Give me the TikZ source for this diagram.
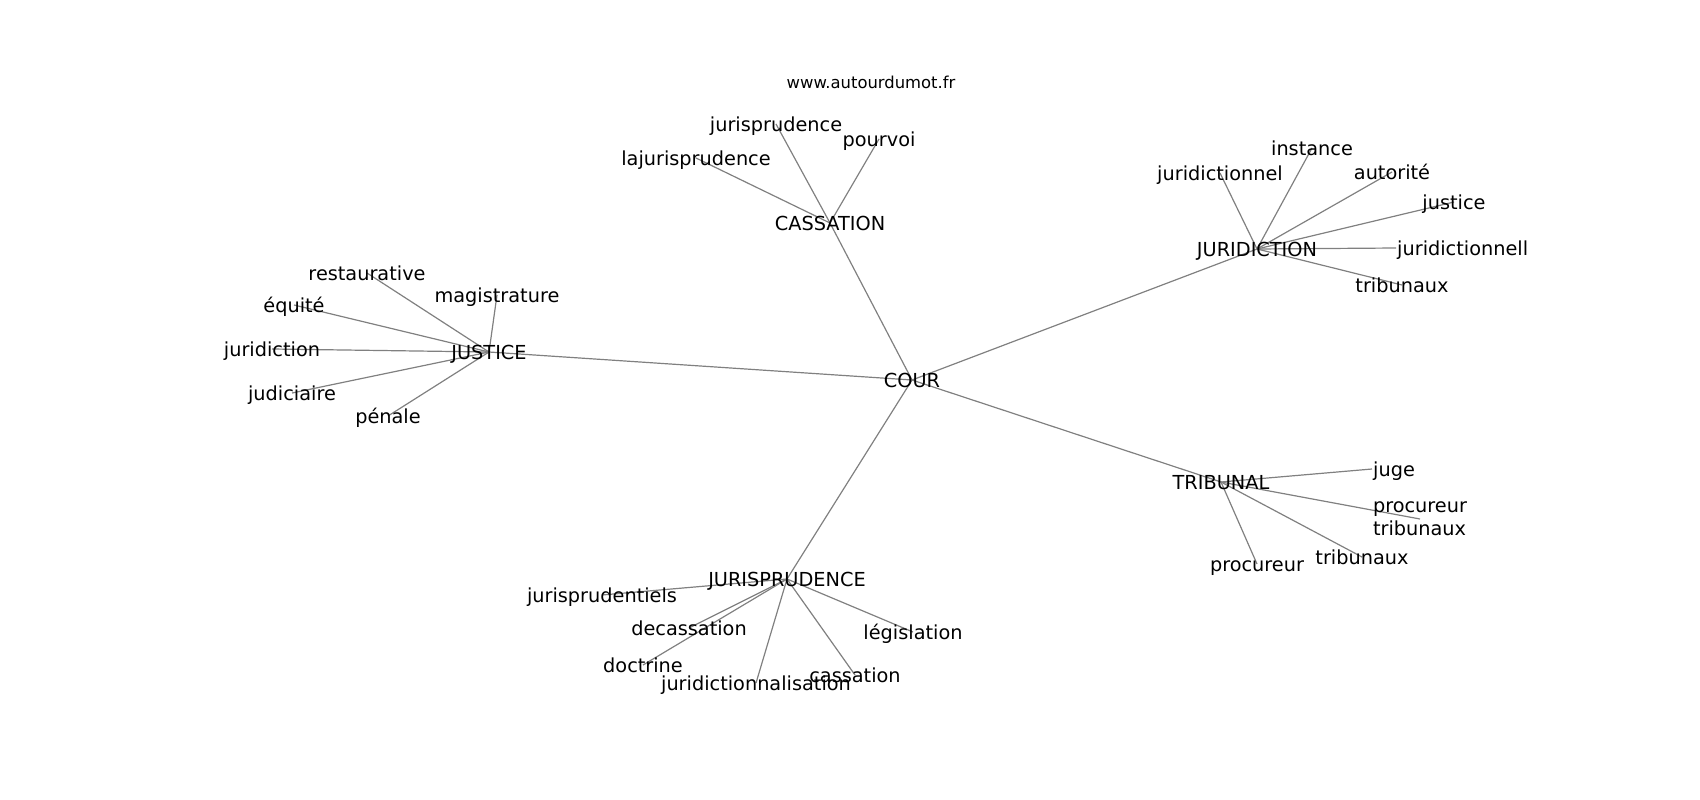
\documentclass[tikz,border=0pt]{standalone}
\usepackage{fontspec}
\setmainfont{DejaVu Sans}
\usetikzlibrary{backgrounds}

\begin{document}
\begin{tikzpicture}[x=1pt,y=-1pt]
        % Définition des styles
        \tikzset{
            word/.style={inner sep=1pt, text height=17pt, text depth=3pt,
                         font=\fontsize{19.3}{23}\selectfont},
            link/.style={draw=gray, line width=1.2pt}
        }
        \useasboundingbox (0,0) rectangle (1700,800);

        % Source
        \node[font=\fontsize{16.4}{19}\selectfont] (site) at (871,82) {www.autourdumot.fr};

        % Mots principaux
        \node[word] (cour) at (912,380) {COUR};
        \node[word] (cassation) at (830,223) {CASSATION};
        \node[word] (justice) at (489,352) {JUSTICE};
        \node[word] (juridiction) at (1257,249) {JURIDICTION};
        \node[word] (tribunal) at (1221,482) {TRIBUNAL};
        \node[word] (jurisprudence) at (787,579) {JURISPRUDENCE};

        % Autour de CASSATION
        \node[word] (cas-lajuris) at (696,158) {lajurisprudence};
        \node[word] (cas-juris) at (776,124) {jurisprudence};
        \node[word] (cas-pourvoi) at (879,139) {pourvoi};

        % Autour de JUSTICE
        \node[word] (jus-restau) at (367,273) {restaurative};
        \node[word] (jus-magis) at (497,295) {magistrature};
        \node[word] (jus-equite) at (294,305) {équité};
        \node[word] (jus-juridiction) at (272,349) {juridiction};
        \node[word] (jus-judiciaire) at (292,393) {judiciaire};
        \node[word] (jus-penale) at (388,416) {pénale};

        % Autour de JURIDICTION
        \node[word] (jur-juridictionnel) at (1220,173) {juridictionnel};
        \node[word] (jur-instance) at (1312,148) {instance};
        \node[word] (jur-autorite) at (1392,172) {autorité};
        \node[word] (jur-justice) at (1454,202) {justice};
        \node[word, anchor=west] (jur-juridictionnell) at (1396,248) {juridictionnell};
        \node[word] (jur-tribunaux) at (1402,285) {tribunaux};

        % Autour de TRIBUNAL
        \node[word, anchor=west] (tri-juge) at (1372,469) {juge};
        \node[inner sep=1pt, align=left, font=\fontsize{19.3}{23}\selectfont] (tri-proctrib) at (1420,519) {procureur\\tribunaux};
        \node[word] (tri-tribunaux) at (1362,557) {tribunaux};
        \node[word] (tri-procureur) at (1257,564) {procureur};

        % Autour de JURISPRUDENCE
        \node[word] (jpr-jurisprudentiels) at (602,595) {jurisprudentiels};
        \node[word] (jpr-decassation) at (689,628) {decassation};
        \node[word] (jpr-doctrine) at (643,665) {doctrine};
        \node[word] (jpr-juridictionnalisation) at (756,683) {juridictionnalisation};
        \node[word] (jpr-cassation) at (855,675) {cassation};
        \node[word] (jpr-legislation) at (913,632) {législation};

        % Connexions
        \begin{scope}[on background layer]
        \draw[link] (cour.center) -- (cassation.center);
        \draw[link] (cour.center) -- (justice.center);
        \draw[link] (cour.center) -- (juridiction.center);
        \draw[link] (cour.center) -- (tribunal.center);
        \draw[link] (cour.center) -- (jurisprudence.center);

        \draw[link] (cassation.center) -- (cas-lajuris.center);
        \draw[link] (cassation.center) -- (cas-juris.center);
        \draw[link] (cassation.center) -- (cas-pourvoi.center);

        \draw[link] (justice.center) -- (jus-restau.center);
        \draw[link] (justice.center) -- (jus-magis.center);
        \draw[link] (justice.center) -- (jus-equite.center);
        \draw[link] (justice.center) -- (jus-juridiction.center);
        \draw[link] (justice.center) -- (jus-judiciaire.center);
        \draw[link] (justice.center) -- (jus-penale.center);

        \draw[link] (juridiction.center) -- (jur-juridictionnel.center);
        \draw[link] (juridiction.center) -- (jur-instance.center);
        \draw[link] (juridiction.center) -- (jur-autorite.center);
        \draw[link] (juridiction.center) -- (jur-justice.center);
        \draw[link] (juridiction.center) -- (jur-juridictionnell.west);
        \draw[link] (juridiction.center) -- (jur-tribunaux.center);

        \draw[link] (tribunal.center) -- (tri-juge.west);
        \draw[link] (tribunal.center) -- (tri-proctrib.center);
        \draw[link] (tribunal.center) -- (tri-tribunaux.center);
        \draw[link] (tribunal.center) -- (tri-procureur.center);

        \draw[link] (jurisprudence.center) -- (jpr-jurisprudentiels.center);
        \draw[link] (jurisprudence.center) -- (jpr-decassation.center);
        \draw[link] (jurisprudence.center) -- (jpr-doctrine.center);
        \draw[link] (jurisprudence.center) -- (jpr-juridictionnalisation.center);
        \draw[link] (jurisprudence.center) -- (jpr-cassation.center);
        \draw[link] (jurisprudence.center) -- (jpr-legislation.center);
        \end{scope}
\end{tikzpicture}
\end{document}
